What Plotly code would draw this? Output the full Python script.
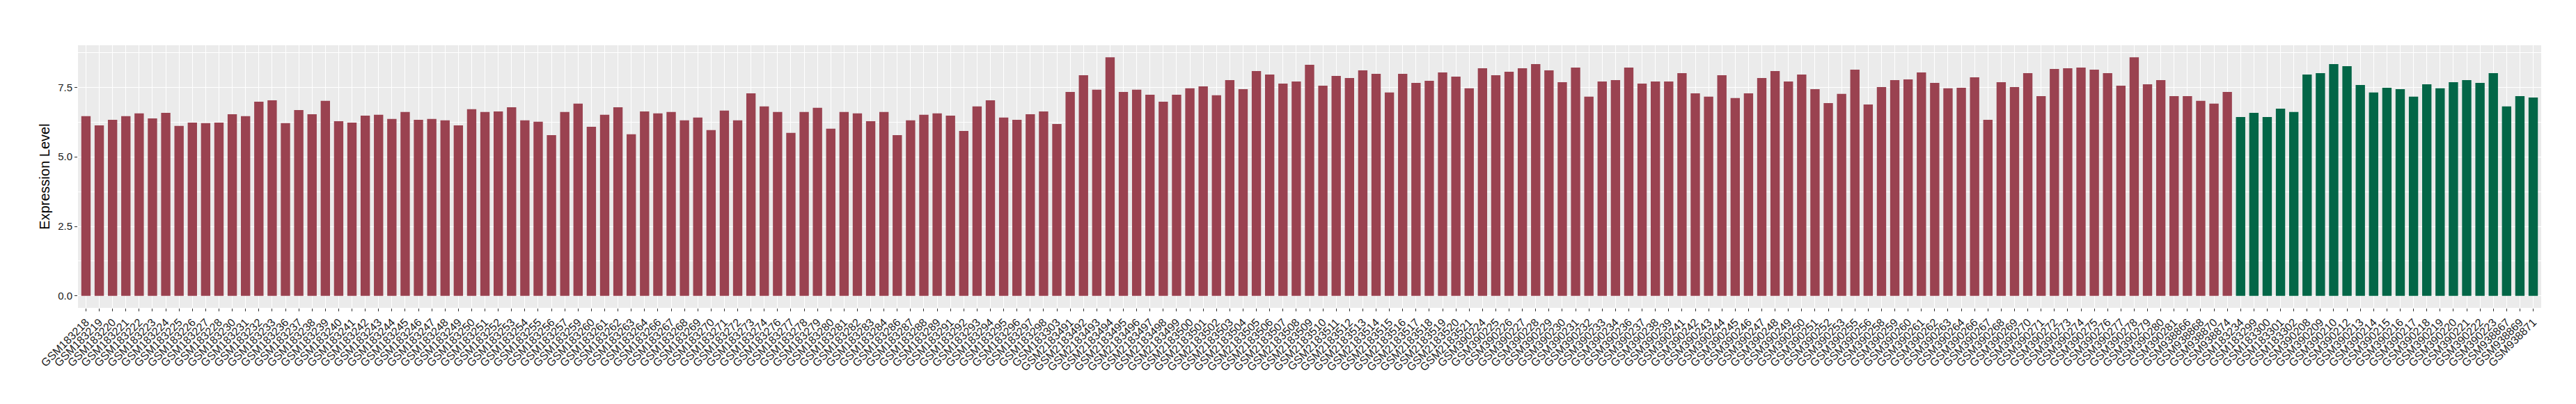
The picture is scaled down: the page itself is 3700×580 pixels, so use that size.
import plotly.graph_objects as go

# ---- Data -------------------------------------------------------------
group1_samples = [
    "GSM183218", "GSM183219", "GSM183220", "GSM183221", "GSM183222", "GSM183223", "GSM183224", "GSM183225",
    "GSM183226", "GSM183227", "GSM183228", "GSM183230", "GSM183231", "GSM183232", "GSM183233", "GSM183236",
    "GSM183237", "GSM183238", "GSM183239", "GSM183240", "GSM183241", "GSM183242", "GSM183243", "GSM183244",
    "GSM183245", "GSM183246", "GSM183247", "GSM183248", "GSM183249", "GSM183250", "GSM183251", "GSM183252",
    "GSM183253", "GSM183254", "GSM183255", "GSM183256", "GSM183257", "GSM183259", "GSM183260", "GSM183261",
    "GSM183262", "GSM183263", "GSM183264", "GSM183266", "GSM183267", "GSM183268", "GSM183269", "GSM183270",
    "GSM183271", "GSM183272", "GSM183273", "GSM183274", "GSM183276", "GSM183277", "GSM183278", "GSM183279",
    "GSM183280", "GSM183281", "GSM183282", "GSM183283", "GSM183284", "GSM183286", "GSM183287", "GSM183288",
    "GSM183289", "GSM183291", "GSM183292", "GSM183293", "GSM183294", "GSM183295", "GSM183296", "GSM183297",
    "GSM183298", "GSM183303",
    "GSM2183491", "GSM2183492", "GSM2183493", "GSM2183494", "GSM2183495", "GSM2183496", "GSM2183497",
    "GSM2183498", "GSM2183499", "GSM2183500", "GSM2183501", "GSM2183502", "GSM2183503", "GSM2183504",
    "GSM2183505", "GSM2183506", "GSM2183507", "GSM2183508", "GSM2183509", "GSM2183510", "GSM2183511",
    "GSM2183512", "GSM2183513", "GSM2183514", "GSM2183515", "GSM2183516", "GSM2183517", "GSM2183518",
    "GSM2183519", "GSM2183520", "GSM2183521",
    "GSM390224", "GSM390225", "GSM390226", "GSM390227", "GSM390228", "GSM390229", "GSM390230", "GSM390231",
    "GSM390232", "GSM390233", "GSM390234", "GSM390236", "GSM390237", "GSM390238", "GSM390239", "GSM390241",
    "GSM390242", "GSM390243", "GSM390244", "GSM390245", "GSM390246", "GSM390247", "GSM390248", "GSM390249",
    "GSM390250", "GSM390251", "GSM390252", "GSM390253", "GSM390255", "GSM390256", "GSM390258", "GSM390259",
    "GSM390260", "GSM390261", "GSM390262", "GSM390263", "GSM390264", "GSM390266", "GSM390267", "GSM390268",
    "GSM390269", "GSM390270", "GSM390271", "GSM390272", "GSM390273", "GSM390274", "GSM390275", "GSM390276",
    "GSM390277", "GSM390278", "GSM390279", "GSM390280", "GSM390281",
    "GSM938866", "GSM938868", "GSM938870", "GSM938874",
]
group1_values = [
    6.46, 6.13, 6.33, 6.46, 6.56, 6.38, 6.58, 6.11, 6.23, 6.21,
    6.23, 6.53, 6.46, 6.98, 7.03, 6.21, 6.68, 6.53, 7.01, 6.28,
    6.23, 6.48, 6.51, 6.36, 6.61, 6.33, 6.36, 6.31, 6.13, 6.71,
    6.61, 6.63, 6.78, 6.31, 6.26, 5.78, 6.61, 6.91, 6.08, 6.51,
    6.78, 5.81, 6.63, 6.56, 6.61, 6.31, 6.41,
    5.96, 6.66, 6.31, 7.28, 6.81, 6.61, 5.86, 6.61, 6.76, 6.01,
    6.61, 6.56, 6.28, 6.61, 5.78, 6.31, 6.51, 6.56, 6.48, 5.93,
    6.81, 7.03, 6.41, 6.33, 6.53, 6.63, 6.18, 7.33, 7.93, 7.41,
    8.58, 7.33, 7.41, 7.23, 6.98, 7.23, 7.46, 7.53, 7.21, 7.76,
    7.43, 8.08, 7.96, 7.63, 7.71, 8.31,
    7.56, 7.91, 7.83, 8.11, 7.98, 7.31, 7.98, 7.66, 7.73, 8.03,
    7.88, 7.46, 8.18, 7.93, 8.06, 8.18, 8.33, 8.11, 7.68, 8.21,
    7.16, 7.71, 7.76, 8.21, 7.63, 7.71, 7.71, 8.01, 7.28, 7.16,
    7.93, 7.11, 7.28, 7.83, 8.08, 7.71, 7.96, 7.43, 6.93, 7.26,
    8.13, 6.88, 7.51, 7.76, 7.78, 8.03,
    7.66, 7.46, 7.48, 7.86, 6.33, 7.68, 7.51, 8.01, 7.18, 8.16,
    8.18, 8.21, 8.13, 8.01, 7.56, 8.58, 7.61, 7.76, 7.18, 7.18,
    7.01, 6.91, 7.33,
]

group2_samples = [
    "GSM183234", "GSM183299", "GSM183300", "GSM183301", "GSM183302",
    "GSM390208", "GSM390209", "GSM390210", "GSM390212", "GSM390213", "GSM390214", "GSM390215",
    "GSM390216", "GSM390217", "GSM390218", "GSM390219", "GSM390220", "GSM390221", "GSM390222",
    "GSM390223", "GSM938867", "GSM938869", "GSM938871",
]
group2_values = [
    6.43, 6.58, 6.43, 6.73, 6.61, 7.96, 8.01, 8.33, 8.26, 7.58,
    7.31, 7.48, 7.43, 7.16, 7.61, 7.46, 7.68, 7.76, 7.66, 8.01,
    6.81, 7.18, 7.13,
]

y_tick_values = [0.0, 2.5, 5.0, 7.5]
y_title = "Expression Level"

# ---- Figure -----------------------------------------------------------
all_samples = group1_samples + group2_samples
ymax = max(group1_values + group2_values)

fig = go.Figure()
fig.add_trace(go.Bar(x=group1_samples, y=group1_values, marker_color="#9A4250",
                     marker_line_width=0, width=0.7, showlegend=False))
fig.add_trace(go.Bar(x=group2_samples, y=group2_values, marker_color="#036647",
                     marker_line_width=0, width=0.7, showlegend=False))

font_family = "Liberation Sans, Arial, sans-serif"
tick_color = "#1A1A1A"

fig.update_layout(
    width=3700, height=580,
    margin=dict(l=104, r=58, t=57, b=146),
    paper_bgcolor="white",
    plot_bgcolor="#EBEBEB",
    font=dict(family=font_family, color=tick_color),
    bargap=0.3,
)
fig.update_xaxes(
    type="category",
    categoryorder="array", categoryarray=all_samples,
    range=[-0.6, len(all_samples) - 0.4],
    tickmode="linear", tick0=0, dtick=1,
    tickangle=-45,
    tickfont=dict(size=16, color=tick_color, family=font_family),
    ticks="outside", ticklen=4, tickcolor="#333333", tickwidth=1,
    showgrid=True, gridcolor="white", gridwidth=1.2,
    zeroline=False, showline=False,
    automargin=False,
)
fig.update_yaxes(
    range=[-0.05 * ymax, 1.05 * ymax],
    tickmode="array", tickvals=y_tick_values,
    ticktext=[f"{v:.1f}" for v in y_tick_values],
    tickfont=dict(size=15, color=tick_color, family=font_family),
    ticks="outside", ticklen=4, tickcolor="#333333", tickwidth=1,
    showgrid=True, gridcolor="white", gridwidth=1.2,
    minor=dict(tickmode="array", tickvals=[1.25, 3.75, 6.25, 8.75],
               showgrid=True, gridcolor="white", gridwidth=0.6, ticks=""),
    zeroline=False, showline=False,
    automargin=False,
    title=dict(text=y_title, font=dict(size=20, color="black", family=font_family), standoff=6),
)

fig.write_html("out.html")
